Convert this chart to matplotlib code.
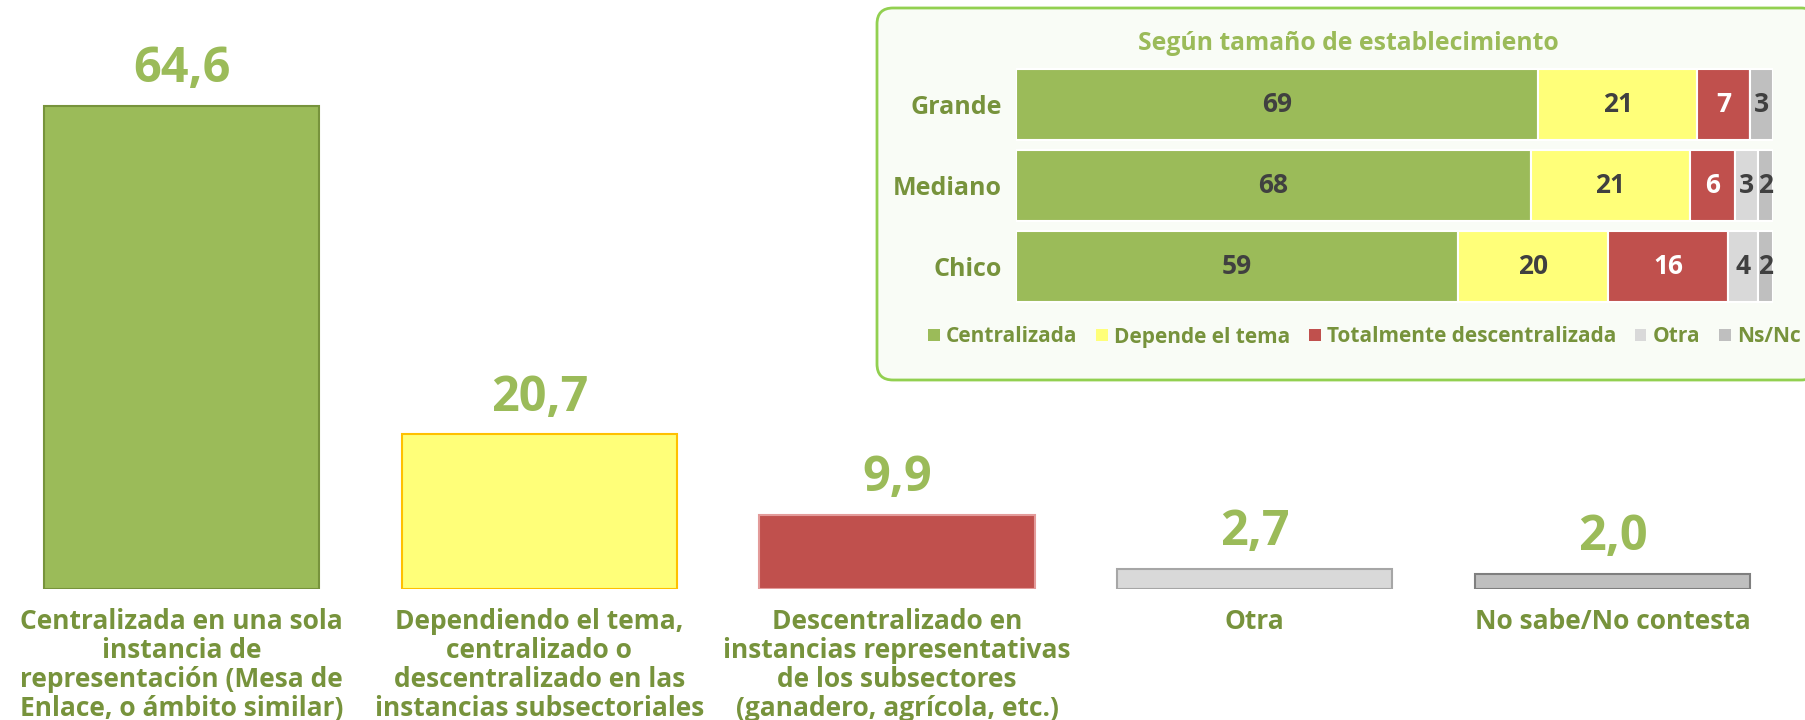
import matplotlib
matplotlib.use("Agg")
import matplotlib.pyplot as plt
from matplotlib.patches import FancyBboxPatch, Patch
from matplotlib.transforms import IdentityTransform

plt.rcParams['font.family'] = ['Open Sans', 'DejaVu Sans']

# ---- main chart data ----
categories = [
    "Centralizada en una sola\ninstancia de\nrepresentación (Mesa de\nEnlace, o ámbito similar)",
    "Dependiendo el tema,\ncentralizado o\ndescentralizado en las\ninstancias subsectoriales",
    "Descentralizado en\ninstancias representativas\nde los subsectores\n(ganadero, agrícola, etc.)",
    "Otra",
    "No sabe/No contesta",
]
values = [64.6, 20.7, 9.9, 2.7, 2.0]
value_labels = ["64,6", "20,7", "9,9", "2,7", "2,0"]
bar_colors = ["#9BBB59", "#FFFF79", "#C0504D", "#D9D9D9", "#BFBFBF"]
bar_edges = ["#77933C", "#FFC000", "#E39B9A", "#A6A6A6", "#7F7F7F"]

# ---- inset data (100% stacked) ----
sizes = ["Grande", "Mediano", "Chico"]
series_names = ["Centralizada", "Depende el tema", "Totalmente descentralizada", "Otra", "Ns/Nc"]
series_values = {
    "Centralizada": [69, 68, 59],
    "Depende el tema": [21, 21, 20],
    "Totalmente descentralizada": [7, 6, 16],
    "Otra": [0, 3, 4],
    "Ns/Nc": [3, 2, 2],
}
series_colors = ["#9BBB59", "#FFFF79", "#C0504D", "#D9D9D9", "#BFBFBF"]
label_colors = ["#404040", "#404040", "#FFFFFF", "#404040", "#404040"]

TXT_DARK = "#77933C"
TXT_LIGHT = "#9BBB59"

W, H = 1806, 720
fig = plt.figure(figsize=(W / 100, H / 100), dpi=100)
fig.patch.set_facecolor("white")

# ---- main axes ----
ax = fig.add_axes([2.6 / W, 1 - 589 / H, 1788.8 / W, 589 / H])
x = list(range(len(categories)))
ax.bar(x, values, width=0.77, color=bar_colors, edgecolor=bar_edges, linewidth=1.5)
ax.set_xlim(-0.5, len(categories) - 0.5)
ax.set_ylim(0, 78.78)
for s in ax.spines.values():
    s.set_visible(False)
ax.set_yticks([])
ax.set_xticks(x)
ax.set_xticklabels(categories, fontsize=19, fontweight="bold", color=TXT_DARK,
                   linespacing=1.09, va="top")
ax.tick_params(axis="x", length=0, pad=14)
ax.patch.set_alpha(0)
for xi, v, lab in zip(x, values, value_labels):
    ax.annotate(lab, (xi, v), xytext=(0, 17), textcoords="offset points",
                ha="center", va="baseline", fontsize=35, fontweight="bold",
                color=TXT_LIGHT)

# ---- inset box ----
box = FancyBboxPatch((877, H - 380), 940, 372,
                     boxstyle="round,pad=0,rounding_size=16",
                     transform=IdentityTransform(), facecolor="#F9FCF6",
                     edgecolor="#92D050", linewidth=2, zorder=-1)
fig.add_artist(box)

fig.text(1348 / W, 1 - 44 / H, "Según tamaño de establecimiento", ha="center",
         va="center", fontsize=17.8, fontweight="bold", color=TXT_LIGHT)

iax = fig.add_axes([1016 / W, 1 - 306.8 / H, 757 / W, 242.8 / H])
iax.patch.set_alpha(0)
y = list(range(len(sizes)))
totals = [sum(series_values[n][i] for n in series_names) for i in range(len(sizes))]
left = [0.0] * len(sizes)
handles = []
for name, col, lc in zip(series_names, series_colors, label_colors):
    vals = series_values[name]
    widths = [100.0 * v / t for v, t in zip(vals, totals)]
    iax.barh(y, widths, left=left, height=0.88, color=col, edgecolor="white", linewidth=1.5)
    for yi, v, w, l in zip(y, vals, widths, left):
        if v > 0:
            iax.text(l + w / 2, yi, str(v), ha="center", va="center", fontsize=19,
                     fontweight="bold", color=lc)
    left = [a + b for a, b in zip(left, widths)]
    handles.append(Patch(facecolor=col, edgecolor="none", label=name))
iax.set_xlim(0, 100)
iax.set_ylim(len(sizes) - 0.5, -0.5)
iax.set_xticks([])
iax.set_yticks(y)
iax.set_yticklabels(sizes, fontsize=18, fontweight="bold", color=TXT_DARK)
iax.tick_params(axis="y", length=0, pad=10)
for s in iax.spines.values():
    s.set_visible(False)

leg = fig.legend(handles=handles, loc="center", bbox_to_anchor=(1364.5 / W, 1 - 337 / H),
                 ncol=5, frameon=False, fontsize=15, handlelength=0.55, handleheight=0.55,
                 handletextpad=0.3, columnspacing=0.9, borderaxespad=0)
for t in leg.get_texts():
    t.set_color(TXT_DARK)
    t.set_fontweight("bold")

fig.savefig("out.png", dpi=100)
